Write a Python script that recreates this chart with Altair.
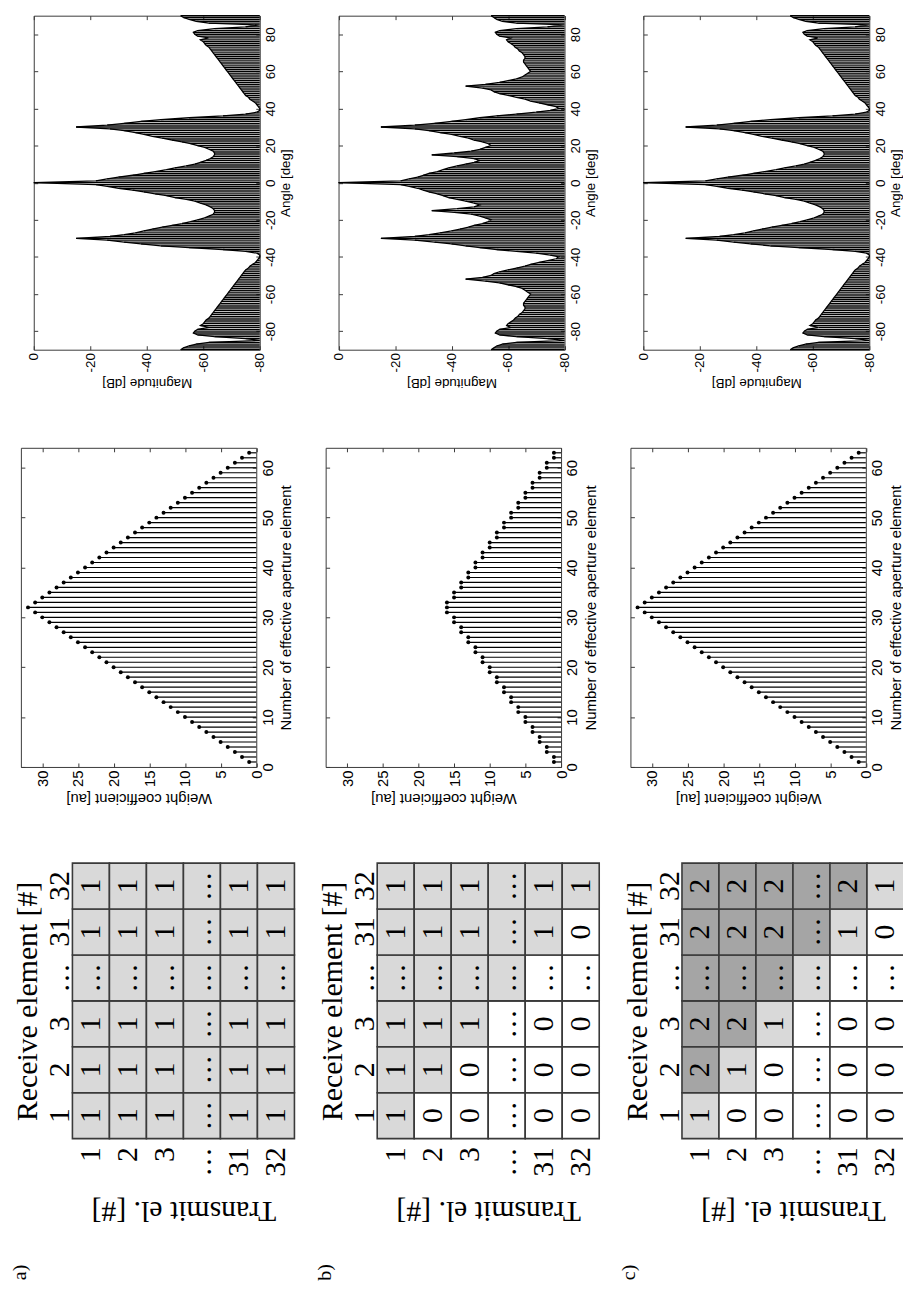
import altair as alt
import pandas as pd

# ---------------- data ----------------
panel_tags = ["a)", "b)", "c)"]

# effective aperture element numbers and stem weights
element_no = list(range(1, 64))
weights_a = [1, 2, 3, 4, 5, 6, 7, 8, 9, 10, 11, 12, 13, 14, 15, 16, 17, 18, 19, 20,
             21, 22, 23, 24, 25, 26, 27, 28, 29, 30, 31, 32, 31, 30, 29, 28, 27, 26,
             25, 24, 23, 22, 21, 20, 19, 18, 17, 16, 15, 14, 13, 12, 11, 10, 9, 8, 7,
             6, 5, 4, 3, 2, 1]
weights_b = [1, 1, 2, 2, 3, 3, 4, 4, 5, 5, 6, 6, 7, 7, 8, 8, 9, 9, 10, 10, 11, 11,
             12, 12, 13, 13, 14, 14, 15, 15, 16, 16, 16, 15, 15, 14, 14, 13, 13, 12,
             12, 11, 11, 10, 10, 9, 9, 8, 8, 7, 7, 6, 6, 5, 5, 4, 4, 3, 3, 2, 2, 1, 1]
weights_c = [1, 2, 3, 4, 5, 6, 7, 8, 9, 10, 11, 12, 13, 14, 15, 16, 17, 18, 19, 20,
             21, 22, 23, 24, 25, 26, 27, 28, 29, 30, 31, 32, 31, 30, 29, 28, 27, 26,
             25, 24, 23, 22, 21, 20, 19, 18, 17, 16, 15, 14, 13, 12, 11, 10, 9, 8, 7,
             6, 5, 4, 3, 2, 1]

# beam pattern: upper envelope (dB) read every degree, -90 .. 90
beam_angles = list(range(-90, 91))
beam_a_db = [
    -52, -53, -55, -57.5, -62, -80, -75, -64, -58, -56.5, -57, -58, -62, -59, -60,
    -60.5, -61, -62, -62.5, -63, -63.5, -64, -64.5, -65, -65.5, -66, -66.5, -67,
    -67.5, -68, -68.5, -69, -69.5, -70, -70.5, -71, -71.5, -72, -72.5, -73, -73.5,
    -74, -74.5, -75, -76, -76.5, -77.5, -78.5, -79, -79.5, -80, -80, -79, -75, -67,
    -55, -45, -38, -32, -26, -15, -27, -32, -36, -39, -42, -45.5, -49, -52.5, -55.5,
    -58, -60.5, -62, -63.5, -64, -64, -63.5, -62.5, -61, -59, -57, -54, -50, -47,
    -43, -39, -35, -30, -26, -22,
    0,
    -22, -26, -30, -35, -39, -43, -47, -50, -54, -57, -59, -61, -62.5, -63.5, -64,
    -64, -63.5, -62, -60.5, -58, -55.5, -52.5, -49, -45.5, -42, -39, -36, -32, -27,
    -15, -26, -32, -38, -45, -55, -67, -75, -79, -80, -80, -79.5, -79, -78.5, -77.5,
    -76.5, -76, -75, -74.5, -74, -73.5, -73, -72.5, -72, -71.5, -71, -70.5, -70,
    -69.5, -69, -68.5, -68, -67.5, -67, -66.5, -66, -65.5, -65, -64.5, -64, -63.5,
    -63, -62.5, -62, -61, -60.5, -60, -59, -62, -58, -57, -56.5, -58, -64, -75, -80,
    -62, -57.5, -55, -53, -52]
beam_b_db = [
    -54, -55, -56, -58, -63, -80, -74, -63, -57, -55.5, -56, -57, -61, -59.5, -60,
    -61, -62, -62.5, -63.5, -64, -65, -65.5, -66, -66, -65.5, -65.5, -66, -66.5, -67,
    -67.5, -68, -67, -66, -65, -63, -60, -57, -52, -45, -51, -54, -55, -57, -60, -63,
    -66, -68, -71, -74, -77, -78, -75, -70, -63, -56, -50, -45, -40, -34, -27, -15,
    -27, -32, -36, -40, -43, -46, -48, -51, -53, -54, -52, -50, -47, -41, -33, -42,
    -48, -50, -48, -45, -42, -39, -37, -35, -32, -30, -28, -25, -22,
    0,
    -22, -25, -28, -30, -32, -35, -37, -39, -42, -45, -48, -50, -48, -42, -33, -41,
    -47, -50, -52, -54, -53, -51, -48, -46, -43, -40, -36, -32, -27, -15, -27, -34,
    -40, -45, -50, -56, -63, -70, -75, -78, -77, -74, -71, -68, -66, -63, -60, -57,
    -55, -54, -51, -45, -52, -57, -60, -63, -65, -66, -67, -68, -67.5, -67, -66.5,
    -66, -65.5, -65.5, -66, -66, -65.5, -65, -64, -63.5, -62.5, -62, -61, -60, -59.5,
    -61, -57, -56, -55.5, -57, -63, -74, -80, -63, -58, -56, -55, -54]
beam_c_db = list(beam_a_db)  # panel c) shows the same pattern as a)

assert len(beam_a_db) == 181 and len(beam_b_db) == 181

# transmit / receive matrices
E = "\u2026"
tx_labels = ["1", "2", "3", E, "31", "32"]
rx_labels = ["1", "2", "3", E, "31", "32"]
mat_a_text = [["1", "1", "1", E, "1", "1"],
              ["1", "1", "1", E, "1", "1"],
              ["1", "1", "1", E, "1", "1"],
              [E, E, E, E, E, E],
              ["1", "1", "1", E, "1", "1"],
              ["1", "1", "1", E, "1", "1"]]
mat_a_shade = [[1, 1, 1, 1, 1, 1]] * 6
mat_b_text = [["1", "1", "1", E, "1", "1"],
              ["0", "1", "1", E, "1", "1"],
              ["0", "0", "1", E, "1", "1"],
              [E, E, E, E, E, E],
              ["0", "0", "0", E, "1", "1"],
              ["0", "0", "0", E, "0", "1"]]
mat_b_shade = [[1, 1, 1, 1, 1, 1],
               [0, 1, 1, 1, 1, 1],
               [0, 0, 1, 1, 1, 1],
               [0, 0, 0, 1, 1, 1],
               [0, 0, 0, 0, 1, 1],
               [0, 0, 0, 0, 0, 1]]
mat_c_text = [["1", "2", "2", E, "2", "2"],
              ["0", "1", "2", E, "2", "2"],
              ["0", "0", "1", E, "2", "2"],
              [E, E, E, E, E, E],
              ["0", "0", "0", E, "1", "2"],
              ["0", "0", "0", E, "0", "1"]]
mat_c_shade = [[1, 2, 2, 2, 2, 2],
               [0, 1, 2, 2, 2, 2],
               [0, 0, 1, 2, 2, 2],
               [0, 0, 0, 1, 2, 2],
               [0, 0, 0, 0, 1, 2],
               [0, 0, 0, 0, 0, 1]]

mag_ticks = [0, -20, -40, -60, -80]
angle_ticks = [-80, -60, -40, -20, 0, 20, 40, 60, 80]
weight_ticks = [0, 5, 10, 15, 20, 25, 30]
element_ticks = [0, 10, 20, 30, 40, 50, 60]

# ---------------- layout (page pixels) ----------------
W, H = 903, 1286
M = 8
COLX = [0, 307.5, 615]
BEAM = dict(left=34, right=262, top=10, bottom=347)
STEM = dict(left=21, right=258.5, top=446, bottom=768)
MAT = dict(left=73, right=297, top=865, bottom=1143)

SANS = "Liberation Sans"
SERIF = "Liberation Serif"
FRAME = "#3a3a3a"
LBL = "'' + datum.value"


def box(geo, cx):
    return (geo["left"] + cx - M, geo["right"] + cx - M,
            geo["top"] - M, geo["bottom"] - M)


def tick_axis(orient, offset, values, domain):
    return alt.Axis(orient=orient, offset=offset, values=values, labels=False,
                    ticks=True, tickSize=4, tickColor=FRAME, domain=domain,
                    domainColor=FRAME, grid=False, title=None)


def framed_panel(xf, yf, xs, ys, L, R, T, B, xvals, yvals, xtitle, ytitle,
                 fsize, rpad, data_layers):
    ax_bottom = alt.Axis(orient="bottom", offset=B - H, values=xvals,
                         labelExpr=LBL, labelAngle=270, labelAlign="right",
                         labelBaseline="middle", labelPadding=3, labelFont=SANS,
                         labelFontSize=fsize, labelColor="black", labelFlush=False,
                         labelOverlap=False, ticks=False, domain=True,
                         domainColor=FRAME, grid=False, title=xtitle,
                         titleAngle=180, titleBaseline="bottom", titleAlign="center",
                         titleFont=SANS, titleFontSize=fsize,
                         titleFontWeight="normal", titleColor="black",
                         titlePadding=4)
    ax_right = alt.Axis(orient="right", offset=R - W, values=yvals,
                        labelExpr=LBL, labelAngle=270, labelAlign="center",
                        labelBaseline="top", labelPadding=4, labelFont=SANS,
                        labelFontSize=fsize, labelColor="black", labelFlush=False,
                        labelOverlap=False, ticks=False, domain=True,
                        domainColor=FRAME, grid=False, title=ytitle,
                        titleAngle=270, titleBaseline="top", titleAlign="center",
                        titleFont=SANS, titleFontSize=fsize,
                        titleFontWeight="normal", titleColor="black",
                        titlePadding=rpad)
    axes = [
        (ax_bottom, ax_right),
        (tick_axis("top", -B, xvals, False), tick_axis("left", -R, yvals, False)),
        (tick_axis("bottom", T - H, xvals, True),
         tick_axis("right", L - W, yvals, True)),
    ]
    out = []
    for (mk, extra), (axx, axy) in zip(data_layers, axes):
        enc = dict(x=alt.X(xf, scale=xs, axis=axx), y=alt.Y(yf, scale=ys, axis=axy))
        enc.update(extra)
        out.append(mk.encode(**enc))
    return out


layers = []

beams = [beam_a_db, beam_b_db, beam_c_db]
weights = [weights_a, weights_b, weights_c]
mats = [(mat_a_text, mat_a_shade), (mat_b_text, mat_b_shade),
        (mat_c_text, mat_c_shade)]

for k in range(3):
    cx = COLX[k]

    # ---- beam pattern ----
    L, R, T, B = box(BEAM, cx)
    bdf = pd.DataFrame({"angle": beam_angles, "db": beams[k]})
    xs = alt.Scale(domain=[-80, 0], range=[R, L], clamp=True)
    ys = alt.Scale(domain=[-90, 90], range=[B, T])
    base = alt.Chart(bdf)
    layers += framed_panel(
        "db:Q", "angle:Q", xs, ys, L, R, T, B, mag_ticks, angle_ticks,
        "Magnitude [dB]", "Angle [deg]", 13.5, 2,
        [(base.mark_rule(color="black", strokeWidth=1.3),
          {"x2": alt.datum(-80)}),
         (base.mark_line(color="black", strokeWidth=1.3),
          {"order": alt.Order("angle:Q")}),
         (base.mark_point(opacity=0), {})])

    # ---- stem plot ----
    L, R, T, B = box(STEM, cx)
    sdf = pd.DataFrame({"element": element_no, "weight": weights[k]})
    xs = alt.Scale(domain=[0, 33], range=[R, L])
    ys = alt.Scale(domain=[0, 64], range=[B, T])
    base = alt.Chart(sdf)
    layers += framed_panel(
        "weight:Q", "element:Q", xs, ys, L, R, T, B, weight_ticks,
        element_ticks, "Weight coefficient [au]",
        "Number of effective aperture element", 15, 4,
        [(base.mark_rule(color="black", strokeWidth=1.2), {"x2": alt.datum(0)}),
         (base.mark_circle(color="black", size=16, opacity=1), {}),
         (base.mark_point(opacity=0), {})])

    # ---- transmit/receive matrix ----
    L, R, T, B = box(MAT, cx)
    text, shade = mats[k]
    rows = []
    for i, tx in enumerate(tx_labels):
        for j, rx in enumerate(rx_labels):
            rows.append({"tx": tx, "rx": rx, "val": text[i][j],
                         "shade": shade[i][j]})
    mdf = pd.DataFrame(rows)
    mxs = alt.Scale(domain=tx_labels, range=[L, R], paddingInner=0,
                    paddingOuter=0)
    mys = alt.Scale(domain=rx_labels[::-1], range=[T, B], paddingInner=0,
                    paddingOuter=0)
    rect = alt.Chart(mdf).mark_rect(stroke="#3a3a3a", strokeWidth=1.6).encode(
        x=alt.X("tx:N", scale=mxs, axis=alt.Axis(
            orient="bottom", offset=B - H, labelAngle=270, labelAlign="right",
            labelBaseline="middle", labelPadding=8, labelFont=SERIF,
            labelFontSize=30, labelColor="black", labelOverlap=False,
            ticks=False, domain=False, grid=False, title="Transmit el. [#]",
            titleAngle=180, titleBaseline="bottom", titleAlign="center",
            titleFont=SERIF, titleFontSize=30, titleFontWeight="normal",
            titleColor="black", titlePadding=19)),
        y=alt.Y("rx:N", scale=mys, axis=alt.Axis(
            orient="left", offset=-L, labelAngle=270, labelAlign="center",
            labelBaseline="alphabetic", labelPadding=4, labelFont=SERIF,
            labelFontSize=30, labelColor="black", labelOverlap=False,
            ticks=False, domain=False, grid=False,
            title="Receive element [#]", titleAngle=270,
            titleBaseline="alphabetic", titleAlign="center", titleFont=SERIF,
            titleFontSize=30, titleFontWeight="normal", titleColor="black",
            titlePadding=8)),
        fill=alt.Fill("shade:O", scale=alt.Scale(
            domain=[0, 1, 2], range=["#ffffff", "#d9d9d9", "#a5a5a5"]),
            legend=None),
    )
    txt = alt.Chart(mdf).mark_text(
        angle=270, font=SERIF, fontSize=30, color="black", align="center",
        baseline="middle").encode(
        x=alt.X("tx:N", scale=mxs, axis=None),
        y=alt.Y("rx:N", scale=mys, axis=None),
        text="val:N")
    layers += [rect, txt]

    # ---- panel tag ----
    tag = alt.Chart(pd.DataFrame({"t": [panel_tags[k]]})).mark_text(
        angle=270, font=SERIF, fontSize=20, color="black", align="center",
        baseline="middle").encode(
        x=alt.value(20 + cx - M), y=alt.value(1278 - M), text="t:N")
    layers.append(tag)

chart = (
    alt.layer(*layers)
    .resolve_scale(x="independent", y="independent")
    .resolve_axis(x="independent", y="independent")
    .properties(width=W, height=H, padding=0, background="white",
                autosize=alt.AutoSizeParams(type="none"))
    .configure_view(stroke=None)
)

chart.save("out.html", embed_options={"renderer": "svg", "actions": False})
